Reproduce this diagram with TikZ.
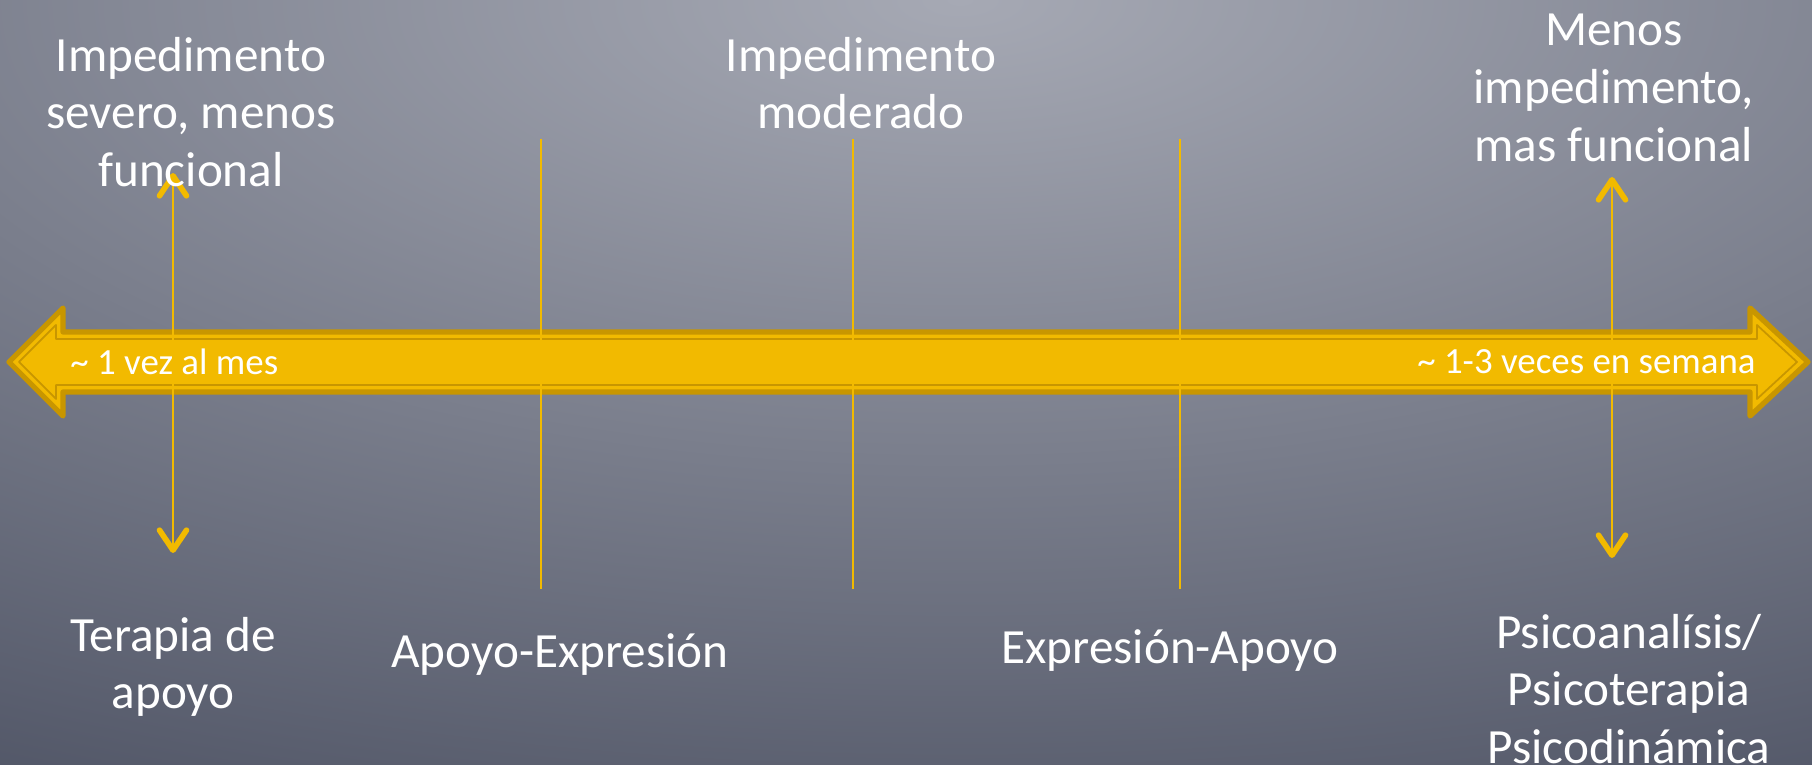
\documentclass[tikz,border=0pt]{standalone}
\usepackage{fontspec}
\setmainfont{Carlito}
\usetikzlibrary{arrows.meta}

\definecolor{gold}{RGB}{242,186,0}
\definecolor{darkgold}{RGB}{200,150,0}
\definecolor{bgtop}{RGB}{166,169,180}
\definecolor{bgbot}{RGB}{78,83,100}
\pgfdeclareradialshading{bgshade}{\pgfpoint{0bp}{0bp}}{color(0bp)=(bgtop); color(25bp)=(bgbot); color(50bp)=(bgbot)}

\tikzset{
  caption/.style={text=white, font=\fontsize{14}{16.4}\selectfont, align=center},
  smalltxt/.style={text=white, font=\fontsize{10.5}{12}\selectfont},
  divider/.style={gold, line width=0.45pt},
  spanarrow/.style={gold, line width=0.7pt,
    {Straight Barb[length=2mm,width=2.7mm,line width=1.6pt,round]}-{Straight Barb[length=2mm,width=2.7mm,line width=1.6pt,round]}}
}

\begin{document}
\begin{tikzpicture}
  \useasboundingbox (0,0) rectangle (18.12,7.65);

  % Background
  \begin{scope}
    \clip (0,0) rectangle (18.12,7.65);
    \fill[bgbot] (0,0) rectangle (18.12,7.65);
    \shade[shading=bgshade] (9.6,7.65) ellipse (22 and 9.2);
  \end{scope}

  % Big double arrow
  \filldraw[fill=gold, draw=darkgold, line width=1.5pt, line join=round]
    (0.09,4.03) -- (0.63,4.57) -- (0.63,4.33) -- (17.50,4.33) -- (17.50,4.57)
    -- (18.08,4.03) -- (17.50,3.49) -- (17.50,3.73) -- (0.63,3.73) -- (0.63,3.49) -- cycle;
  \draw[darkgold, line width=0.5pt, line join=round]
    (0.19,4.03) -- (0.56,4.40) -- (0.56,4.26) -- (17.57,4.26) -- (17.57,4.40)
    -- (17.97,4.03) -- (17.57,3.66) -- (17.57,3.80) -- (0.56,3.80) -- (0.56,3.66) -- cycle;

  % Dividers
  \foreach \x [count=\i] in {5.41,8.53,11.80} {
    \coordinate (d\i top) at (\x,6.26);
    \coordinate (d\i bot) at (\x,1.76);
    \draw[divider] (d\i top) -- (d\i bot);
  }

  % Range arrows
  \coordinate (ltop) at (1.73,5.92);
  \coordinate (lbot) at (1.73,2.12);
  \coordinate (rtop) at (16.12,5.88);
  \coordinate (rbot) at (16.12,2.07);
  \draw[spanarrow] (ltop) -- (lbot);
  \draw[spanarrow] (rtop) -- (rbot);

  % Labels on the arrow
  \node[smalltxt, anchor=west] (monthly) at (0.58,4.03) {\textasciitilde{} 1 vez al mes};
  \node[smalltxt, anchor=east] (weekly) at (17.68,4.03) {\textasciitilde{} 1-3 veces en semana};

  % Top labels
  \node[caption] (severe) at (1.91,6.53) {Impedimento\\severo, menos\\funcional};
  \node[caption] (moderate) at (8.61,6.82) {Impedimento\\moderado};
  \node[caption] (mild) at (16.14,6.77) {Menos\\impedimento,\\mas funcional};

  % Bottom labels
  \node[caption] (support) at (1.73,0.98) {Terapia de\\apoyo};
  \node[caption] (supexp) at (5.60,1.10) {Apoyo-Expresión};
  \node[caption] (expsup) at (11.70,1.14) {Expresión-Apoyo};
  \node[caption] (psycho) at (16.29,0.76) {Psicoanalísis/\\Psicoterapia\\Psicodinámica};
\end{tikzpicture}
\end{document}
